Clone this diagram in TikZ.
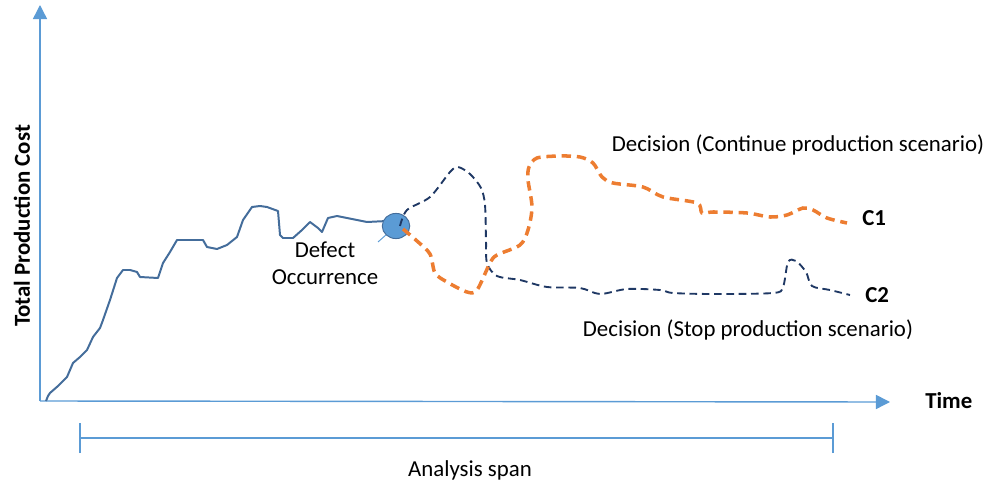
\documentclass[tikz,border=0pt]{standalone}
\usepackage{fontspec}
\setmainfont{Carlito}
\usetikzlibrary{arrows.meta,shapes.geometric}
\definecolor{axisblue}{RGB}{91,155,213}
\definecolor{costblue}{RGB}{68,109,155}
\definecolor{stopnavy}{RGB}{31,56,100}
\definecolor{contorange}{RGB}{237,125,49}
\begin{document}
\begin{tikzpicture}[x=0.03cm,y=-0.03cm,
    axis/.style={axisblue,line width=1.2pt},
    costline/.style={costblue,line width=1.7pt,line join=round},
    stopline/.style={stopnavy,line width=1.6pt,dash pattern=on 6.5pt off 4pt,smooth,tension=0.5},
    contline/.style={contorange,line width=3pt,dash pattern=on 8pt off 5pt,smooth,tension=0.5},
    lbl/.style={font=\fontsize{19.5}{23}\selectfont,inner sep=0pt},
    bold/.style={lbl,font=\fontsize{19.5}{23}\selectfont\bfseries}]
    \useasboundingbox (0,0) rectangle (993,488);

    % Axes
    \coordinate (origin) at (40,401);
    \coordinate (ytop) at (40,5);
    \coordinate (xend) at (890,402);
    \draw[axis,-{Triangle[length=12pt,width=12pt]}] (origin) -- (ytop);
    \draw[axis,-{Triangle[length=12pt,width=12pt]}] (origin) -- (xend);
    \node[bold,anchor=west] (time) at (925,401) {Time};
    \node[bold,rotate=90] (ylabel) at (22,226) {Total Production Cost};

    % Analysis span
    \coordinate (spanL) at (80,438);
    \coordinate (spanR) at (833,438);
    \draw[axis,line width=1pt] (spanL) -- (spanR);
    \draw[axis,line width=1pt] ([yshift=-13]spanL) -- ([yshift=13]spanL);
    \draw[axis,line width=1pt] ([yshift=-13]spanR) -- ([yshift=13]spanR);
    \node[lbl] (span) at (470,470) {Analysis span};

    % Cost up to the defect
    \draw[costline] (46,401) -- (48,396) -- (50,393) -- (58,386) -- (67,377) -- (73,363)
        -- (80,357) -- (87,350) -- (93,337) -- (100,328) -- (103,320) -- (110,300)
        -- (117,278) -- (123,270) -- (130,270) -- (137,272) -- (140,277) -- (158,278)
        -- (163,263) -- (170,252) -- (177,240) -- (203,240) -- (207,247) -- (217,249)
        -- (227,245) -- (237,237) -- (243,220) -- (252,207) -- (260,206) -- (267,207)
        -- (278,211) -- (280,235) -- (283,238) -- (293,238) -- (302,230) -- (310,222)
        -- (318,228) -- (322,232) -- (328,218) -- (337,216) -- (367,222) -- (387,221);

    % Defect
    \node[ellipse,fill=axisblue,draw=costblue,line width=0.8pt,minimum width=23.5pt,minimum height=21.5pt,inner sep=0pt] (defect) at (396,226) {};
    \coordinate (leader) at (378,242);
    \draw[axisblue,line width=0.8pt] (leader) -- (defect);
    \node[lbl,align=center] (defectlbl) at (325,263) {Defect\\Occurrence};

    % Stop production scenario
    \draw[stopline] plot coordinates {(400,226) (407,210) (430,197) (450,172) (458,167)
        (470,174) (481,188) (485,205) (486,240) (487,263) (497,276) (520,280) (547,287)
        (580,288) (600,294) (627,289) (660,290) (673,293) (713,294) (773,293) (783,287)
        (788,262) (796,261) (806,272) (812,286) (830,290) (850,295)};
    \node[bold,anchor=west] (c2) at (865,295) {C2};
    \node[lbl] (stop) at (748,330) {Decision (Stop production scenario)};

    % Continue production scenario
    \draw[contline] plot coordinates {(403,229) (417,241) (430,254) (435,273) (447,282)
        (467,292) (477,290) (490,263) (497,255) (520,245) (528,230) (532,207) (528,180)
        (529,167) (537,158) (560,156) (580,157) (593,163) (602,177) (613,183) (643,187)
        (663,197) (697,203) (702,213) (713,212) (747,213) (770,217) (787,215) (803,208)
        (813,210) (827,218) (847,223)};
    \node[bold,anchor=west] (c1) at (862,218) {C1};
    \node[lbl] (cont) at (798,145) {Decision (Continue production scenario)};
\end{tikzpicture}
\end{document}
